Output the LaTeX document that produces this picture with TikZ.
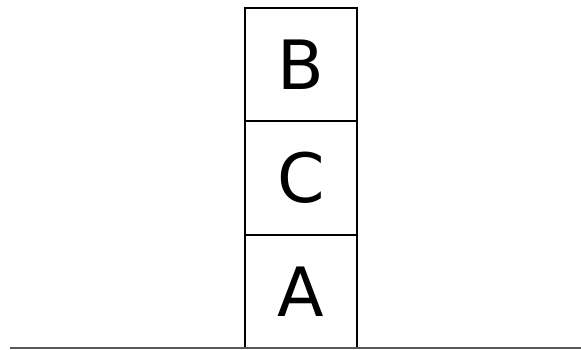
\documentclass[tikz,border=0pt]{standalone}
\usepackage{fontspec}
\setmainfont{DejaVu Sans}
\begin{document}
\begin{tikzpicture}[x=1pt,y=1pt,
  blk/.style={draw=black,line width=2pt,minimum width=112pt,minimum height=113.3pt,inner sep=0pt,outer sep=0pt,font=\fontsize{68}{70}\selectfont},
  ground/.style={draw=black!65,line width=1.3pt}]
\useasboundingbox (0,0) rectangle (581,349);
\node[blk] (A) at (301,57.7) {A};
\node[blk,anchor=south] (C) at (A.north) {C};
\node[blk,anchor=south] (B) at (C.north) {B};
\coordinate (gl) at (10,1);
\coordinate (gr) at (581,1);
\draw[ground] (gl) -- (gr);
\end{tikzpicture}
\end{document}
